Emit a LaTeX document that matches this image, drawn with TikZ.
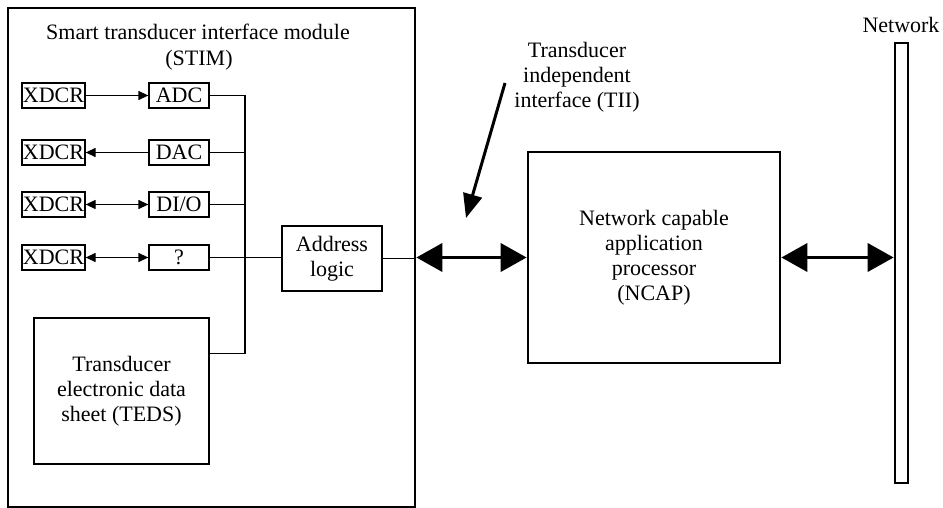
\documentclass[tikz,border=0pt]{standalone}
\usepackage{fontspec}
\setmainfont{Liberation Serif}
\usetikzlibrary{arrows.meta,calc}
\begin{document}
\begin{tikzpicture}[x=1pt,y=-1pt,
  every node/.style={font=\fontsize{22}{25}\selectfont},
  smallbox/.style={draw,line width=1.3pt,minimum height=25pt,inner sep=0pt},
  bigbox/.style={draw,line width=2.7pt,inner sep=0pt,align=center},
  thin/.style={line width=1.3pt},
  sarrow/.style={line width=1.3pt,-{Triangle[length=10pt,width=9pt]}},
  darrow/.style={line width=1.3pt,{Triangle[length=10pt,width=9pt]}-{Triangle[length=10pt,width=9pt]}},
  bigarrow/.style={line width=3.8pt,{Triangle[length=26pt,width=28pt]}-{Triangle[length=26pt,width=28pt]}}]
\useasboundingbox (0,0) rectangle (943,508);
% STIM
\node[bigbox,minimum width=407pt,minimum height=499pt] (stim) at (211.5,257.5) {};
\node (t1) at (198,32) {Smart transducer interface module};
\node (t2) at (199,60) {(STIM)};
% XDCR
\foreach \n/\y in {1/95.5,2/152.5,3/204.5,4/257.5}{
  \node[smallbox,minimum width=63pt] (x\n) at (53.5,\y) {XDCR};
}
\node[smallbox,minimum width=60pt] (adc) at (179,95.5) {ADC};
\node[smallbox,minimum width=60pt] (dac) at (179,152.5) {DAC};
\node[smallbox,minimum width=60pt] (dio) at (179,204.5) {DI/O};
\node[smallbox,minimum width=60pt] (q) at (179,257.5) {?};
\draw[sarrow] (x1) -- (adc);
\draw[sarrow] (dac) -- (x2);
\draw[darrow] (x3) -- (dio);
\draw[darrow] (x4) -- (q);
% TEDS
\node[smallbox,minimum width=175pt,minimum height=146pt,align=center] (teds) at (121.5,391) {Transducer\\electronic data\\sheet (TEDS)};
% Address logic
\node[smallbox,minimum width=100pt,minimum height=65pt,align=center] (addr) at (332,258.5) {Address\\logic};
% bus
\coordinate (btop) at (245,95.5);
\coordinate (bbot) at ($(teds.north east)+(0,36)$);
\coordinate (bb) at (bbot -| btop);
\draw[thin] (adc.east) -- (btop) -- (bb) -- (bbot);
\draw[thin] (dac.east) -- (dac.east -| btop);
\draw[thin] (dio.east) -- (dio.east -| btop);
\draw[thin] (q.east) -- (q.east -| addr.west);
\draw[thin] (addr.east) -- (addr.east -| stim.east);
% NCAP
\node[bigbox,minimum width=252pt,minimum height=211pt] (ncap) at (654,257.5) {Network capable\\application\\processor\\(NCAP)};
% Network bar
\node[draw,line width=2.7pt,minimum width=13pt,minimum height=440pt,inner sep=0pt] (net) at (901.5,263) {};
\node (netl) at (901,25) {Network};
% arrows
\draw[bigarrow] (ncap.west -| stim.east) -- (ncap.west);
\draw[bigarrow] (ncap.east) -- (ncap.east -| net.west);
% TII
\node[align=center] (tii) at (577,77) {Transducer\\independent\\interface (TII)};
\coordinate (tiis) at (505,83);
\coordinate (tiie) at (466,218);
\draw[line width=3pt,-{Triangle[length=24pt,width=19pt]}] (tiis) -- (tiie);
\end{tikzpicture}
\end{document}
